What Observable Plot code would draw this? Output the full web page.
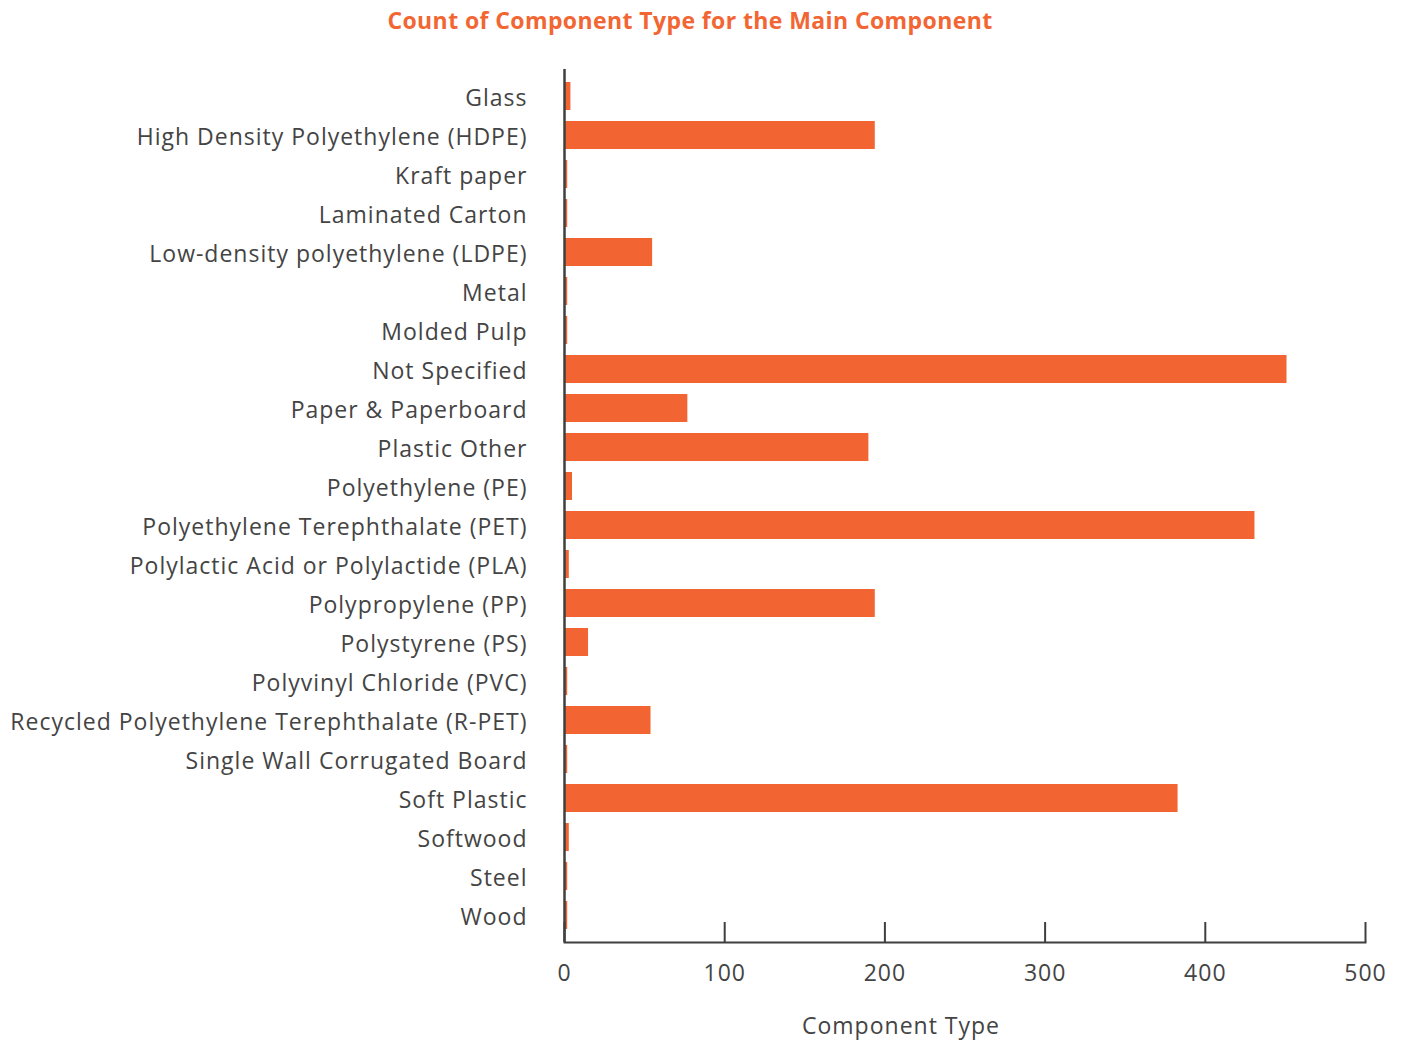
<!DOCTYPE html>
<html>
<head>
<meta charset="utf-8">
<script src="https://cdn.jsdelivr.net/npm/d3@7"></script>
<script src="https://cdn.jsdelivr.net/npm/@observablehq/plot@0.6"></script>
<style>
  body { margin: 0; background: #fff; font-family: "Open Sans", sans-serif; }
  #wrap { position: relative; width: 1409px; height: 1043px; }
  #title { position: absolute; left: 0; top: 4px; width: 1380px; text-align: center; font-size: 23px; font-weight: 700; color: #F26633; letter-spacing: 0.4px; }
  #chart { position: absolute; left: 0; top: 40px; }
  #chart svg text { letter-spacing: 1px; }
  #xlabel { position: absolute; left: 751px; top: 1009px; width: 300px; text-align: center; font-size: 23px; color: #444; letter-spacing: 1px; }
</style>
</head>
<body>
<div id="wrap">
  <div id="title">Count of Component Type for the Main Component</div>
  <div id="chart"></div>
  <div id="xlabel">Component Type</div>
</div>
<script>
const categories = [
  "Glass",
  "High Density Polyethylene (HDPE)",
  "Kraft paper",
  "Laminated Carton",
  "Low-density polyethylene (LDPE)",
  "Metal",
  "Molded Pulp",
  "Not Specified",
  "Paper & Paperboard",
  "Plastic Other",
  "Polyethylene (PE)",
  "Polyethylene Terephthalate (PET)",
  "Polylactic Acid or Polylactide (PLA)",
  "Polypropylene (PP)",
  "Polystyrene (PS)",
  "Polyvinyl Chloride (PVC)",
  "Recycled Polyethylene Terephthalate (R-PET)",
  "Single Wall Corrugated Board",
  "Soft Plastic",
  "Softwood",
  "Steel",
  "Wood"
];
const counts = [4, 194, 2, 2, 55, 2, 2, 451, 77, 190, 5, 431, 3, 194, 15, 2, 54, 2, 383, 3, 2, 2];
const xTicks = [0, 100, 200, 300, 400, 500];

const data = categories.map((c, i) => ({category: c, count: counts[i]}));

const chart = Plot.plot({
  width: 1409,
  height: 1003,
  marginTop: 25,
  marginBottom: 96,
  marginLeft: 564,
  marginRight: 44,
  style: {fontFamily: "Open Sans, sans-serif", fontSize: "23px", color: "#444", background: "#fff"},
  x: {domain: [0, 500], ticks: xTicks, label: null},
  y: {domain: categories, padding: 0.27, label: null},
  marks: [
    Plot.barX(data, {x: "count", y: "category", fill: "#F26533"}),
    Plot.axisY({tickSize: 0, tickPadding: 37, fontSize: 23, fill: "#444", dy: 2, label: null}),
    Plot.axisX({ticks: xTicks, tickSize: -20, tickPadding: 42, fontSize: 23, fill: "#444", stroke: "#3f3f3f", strokeWidth: 2, dy: -5, label: null}),
    Plot.frame({anchor: "bottom", stroke: "#3f3f3f", strokeWidth: 2, insetBottom: 5}),
    Plot.ruleX([0], {stroke: "#3f3f3f", strokeWidth: 2.5, insetTop: 4, insetBottom: 5})
  ]
});
document.getElementById("chart").appendChild(chart);
</script>
</body>
</html>
